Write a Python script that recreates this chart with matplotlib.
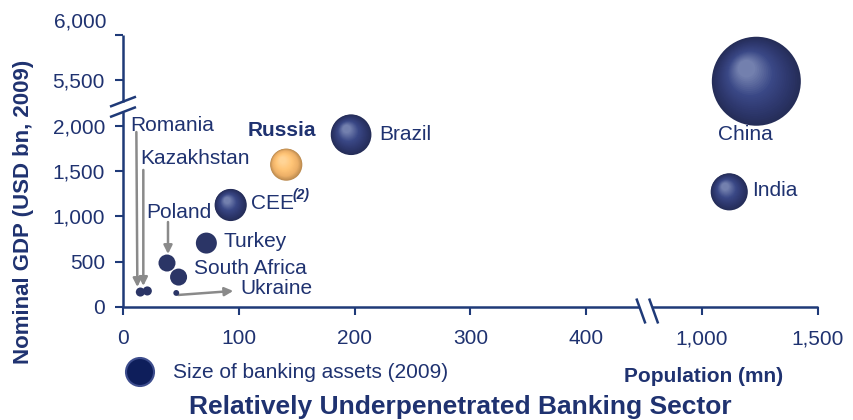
import numpy as np
import matplotlib
matplotlib.use("Agg")
import matplotlib.pyplot as plt
from matplotlib import transforms
from matplotlib.patches import Circle
from matplotlib.colors import to_rgb

plt.rcParams["font.family"] = ["Liberation Sans", "DejaVu Sans"]

# ---- data -------------------------------------------------------------
countries = ["China", "India", "Brazil", "Russia", "CEE", "Turkey", "Poland",
             "South Africa", "Romania", "Kazakhstan", "Ukraine"]
population = [1235, 1118, 197, 141, 93, 72, 38, 48, 15, 21, 46]          # mn
gdp = [5490, 1270, 1900, 1570, 1125, 705, 485, 330, 165, 177, 155]       # USD bn
bank_assets = [11500, 2000, 2400, 1500, 1500, 640, 420, 420, 120, 120, 50]  # USD bn

x_tick_values = [0, 100, 200, 300, 400, 1000, 1500]
x_tick_labels = ["0", "100", "200", "300", "400", "1,000", "1,500"]
y_tick_values = [0, 500, 1000, 1500, 2000, 5500, 6000]
y_tick_labels = ["0", "500", "1,000", "1,500", "2,000", "5,500", "6,000"]

highlight = "Russia"

# ---- broken-axis scales -------------------------------------------------
def sx(p):
    return p if p <= 450 else 500 + (p - 1000) / 5.0

def sy(g):
    return g if g <= 2200 else g - 3000.0

TEXT = "#1F3270"
AXIS = "#1F3A78"
ARROW = "#8A8A8A"

fig = plt.figure(figsize=(8.54, 4.2), dpi=100)
W, H = 854, 420
ax = fig.add_axes([123 / W, (H - 307) / H, (817.7 - 123) / W, (307 - 35) / H])
ax.set_xlim(0, 600)
ax.set_ylim(0, 3000)
for s in ax.spines.values():
    s.set_visible(False)
ax.patch.set_alpha(0)

ax.set_xticks([sx(v) for v in x_tick_values], x_tick_labels)
ax.set_yticks([sy(v) for v in y_tick_values], y_tick_labels[:-1] + [""])
ax.tick_params(axis="both", colors=AXIS, labelcolor=TEXT, labelsize=15,
               width=1.5, length=6, direction="out")
ax.tick_params(axis="x", pad=10)
ax.tick_params(axis="y", pad=7)
ax.annotate(y_tick_labels[-1], xy=(0, sy(y_tick_values[-1])), xytext=(-16, 13),
            textcoords="offset pixels", ha="right", va="center",
            fontsize=15, color=TEXT, annotation_clip=False)


def anchor(xd, yd):
    """Pixel-offset frame centred on a data point."""
    return transforms.ScaledTranslation(xd, yd, ax.transData)


# axis lines with gaps at the breaks
xb0, xb1 = 446, 457
yb0, yb1 = 2150, 2265
line_kw = dict(color=AXIS, lw=1.8, clip_on=False, solid_capstyle="butt")
ax.plot([0, xb0], [0, 0], **line_kw)
ax.plot([xb1, 600], [0, 0], **line_kw)
ax.plot([0, 0], [0, yb0], **line_kw)
ax.plot([0, 0], [yb1, 3000], **line_kw)

# break marks
for xb in (xb0, xb1):
    tr = anchor(xb, 0)
    ax.plot([1.5 - 4.5, 1.5 + 4.5], [-4 + 12.5, -4 - 12.5], transform=tr, **line_kw)
for yb in (yb0, yb1):
    tr = anchor(0, yb)
    ax.plot([-13, 13], [-5, 5], transform=tr, **line_kw)

# ---- bubbles ------------------------------------------------------------
navy_stops = [(0.0, "#252D58"), (0.25, "#2D376C"), (0.6, "#3A4886"), (1.0, "#7380AE")]
gold_stops = [(0.0, "#BC8B4F"), (0.25, "#EDB068"), (0.6, "#FFC577"), (1.0, "#FFD496")]
FLAT = "#2B3566"


def blend(stops, t):
    for (t0, c0), (t1, c1) in zip(stops, stops[1:]):
        if t <= t1:
            f = (t - t0) / (t1 - t0)
            return tuple(np.array(to_rgb(c0)) * (1 - f) + np.array(to_rgb(c1)) * f)
    return to_rgb(stops[-1][1])


k = 0.415  # pixels of radius per sqrt(USD bn)
for name, p, g, a in zip(countries, population, gdp, bank_assets):
    r = k * np.sqrt(a)
    tr = anchor(sx(p), sy(g))
    if r < 12:
        ax.add_patch(Circle((0, 0), r, transform=tr, fc=FLAT, ec="none",
                            clip_on=False, zorder=4))
        continue
    stops = gold_stops if name == highlight else navy_stops
    n = 26
    for i in range(n):
        t = i / (n - 1)
        rad = r * (1 - 0.8 * t)
        cx, cy = -0.22 * r * t, 0.28 * r * t
        ax.add_patch(Circle((cx, cy), rad, transform=tr, fc=blend(stops, t),
                            ec="none", clip_on=False, zorder=4))

# ---- labels -------------------------------------------------------------
label_layout = {
    "China": (-11, -53, "center", "normal"),
    "India": (23, 1, "left", "normal"),
    "Brazil": (28, 0, "left", "normal"),
    "Russia": (-39, 34, "left", "bold"),
    "CEE": (20, 1, "left", "normal"),
    "Turkey": (17, 2, "left", "normal"),
    "South Africa": (15, 9, "left", "normal"),
    "Poland": (-21, 51, "left", "normal"),
    "Romania": (-10, 167, "left", "normal"),
    "Kazakhstan": (-7, 132, "left", "normal"),
    "Ukraine": (64, 4, "left", "normal"),
}
arrow_layout = {
    "Romania": ((-4, 160), (-3, 5)),
    "Kazakhstan": ((-4, 121), (-4, 5)),
    "Poland": ((1, 41), (1, 9)),
    "Ukraine": ((2, -2), (57, 2)),
}

for name, p, g in zip(countries, population, gdp):
    xd, yd = sx(p), sy(g)
    dx, dy, ha, wt = label_layout[name]
    ax.annotate(name, xy=(xd, yd), xytext=(dx, dy), textcoords="offset pixels",
                ha=ha, va="center", fontsize=15, fontweight=wt, color=TEXT,
                zorder=6, annotation_clip=False)
    if name == "CEE":
        ax.annotate("(2)", xy=(xd, yd), xytext=(62, 10), textcoords="offset pixels",
                    ha="left", va="center", fontsize=10, fontweight="bold",
                    fontstyle="italic", color=TEXT, zorder=6)
    if name in arrow_layout:
        tail, tip = arrow_layout[name]
        tr = anchor(xd, yd)
        ax.annotate("", xy=tip, xycoords=tr, xytext=tail, textcoords=tr,
                    arrowprops=dict(arrowstyle="-|>,head_length=0.5,head_width=0.25",
                                    color=ARROW, lw=1.8, shrinkA=0, shrinkB=0),
                    zorder=3, annotation_clip=False)

# ---- figure-level text and legend --------------------------------------
fig.text(24 / W, 1 - 212 / H, "Nominal GDP (USD bn, 2009)", rotation=90,
         ha="center", va="center", fontsize=16, fontweight="bold", color=TEXT)
fig.add_artist(Circle((1.40, (H - 372) / 100), 0.14, transform=fig.dpi_scale_trans,
                      fc="#0E1E5B", ec="#3D4D8D", lw=1.5))
fig.text(173 / W, 1 - 373 / H, "Size of banking assets (2009)", ha="left",
         va="center", fontsize=15, color=TEXT)
fig.text(783 / W, 1 - 376 / H, "Population (mn)", ha="right", va="center",
         fontsize=15, fontweight="bold", color=TEXT)
fig.text(460 / W, 1 - 407 / H, "Relatively Underpenetrated Banking Sector",
         ha="center", va="center", fontsize=19, fontweight="bold", color=TEXT)

fig.savefig("out.png", dpi=100)
